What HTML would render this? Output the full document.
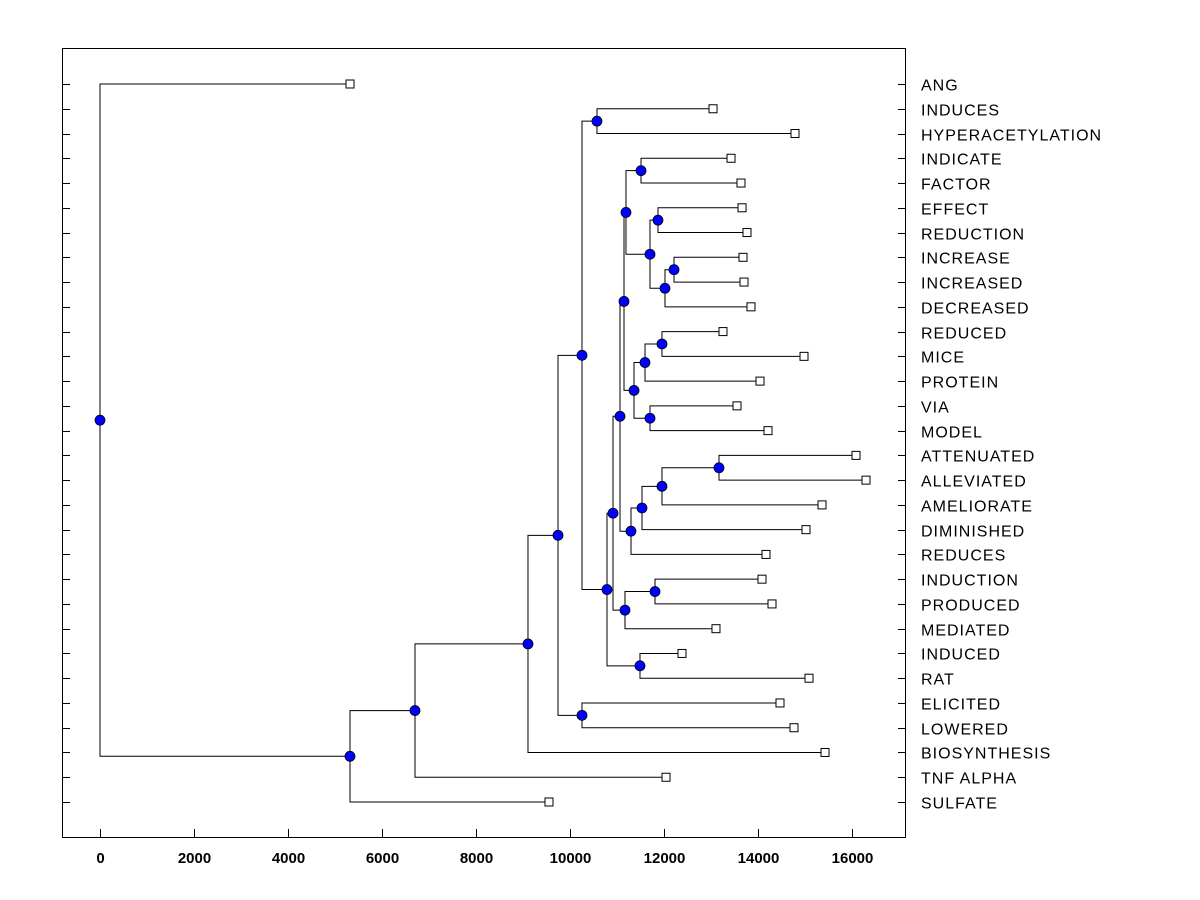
<!DOCTYPE html>
<html><head><meta charset="utf-8"><style>
html,body{margin:0;padding:0;background:#fff;}
svg{display:block;}
text{font-family:"Liberation Sans",Arial,sans-serif;}
</style></head><body>
<svg id="chart" width="1200" height="900" viewBox="0 0 1200 900" xmlns="http://www.w3.org/2000/svg">
<rect x="0" y="0" width="1200" height="900" fill="#fff"/>
<rect x="62.5" y="48.5" width="843" height="789" fill="none" stroke="#000" stroke-width="1"/>
<g id="g"></g>
</svg>
<script>
const leafLabels = ["ANG","INDUCES","HYPERACETYLATION","INDICATE","FACTOR","EFFECT","REDUCTION","INCREASE","INCREASED","DECREASED","REDUCED","MICE","PROTEIN","VIA","MODEL","ATTENUATED","ALLEVIATED","AMELIORATE","DIMINISHED","REDUCES","INDUCTION","PRODUCED","MEDIATED","INDUCED","RAT","ELICITED","LOWERED","BIOSYNTHESIS","TNF ALPHA","SULFATE"];
const leafValues = [5319,13043,14787,13426,13638,13660,13766,13681,13702,13851,13255,14979,14043,13553,14213,16085,16298,15362,15021,14170,14085,14298,13106,12383,15085,14468,14766,15426,12043,9553];
const mergeA = ["L1","L3","L5","L7","N3","N2","N1","L10","N7","L13","N8","N6","L15","N12","N13","N14","N11","L20","N17","N16","L23","N19","N0","L25","N22","N24","N25","N26","L0"];
const mergeB = ["L2","L4","L6","L8","L9","N4","N5","L11","L12","L14","N9","N10","L16","L17","L18","L19","N15","L21","L22","N18","L24","N20","N21","L26","N23","L27","L28","L29","N27"];
const mergeH = [10574,11511,11872,12213,12021,11702,11191,11957,11596,11702,11362,11149,13170,11957,11532,11298,11064,11809,11170,10915,11489,10787,10255,10255,9745,9106,6702,5319,0];
const xTicks = [0,2000,4000,6000,8000,10000,12000,14000,16000];

const NS="http://www.w3.org/2000/svg";
const g=document.getElementById('g');
const X=v=>100+v*0.047;
const Y=i=>84+i*(802-84)/29;
function mk(tag,attrs,parent){const e=document.createElementNS(NS,tag);for(const k in attrs)e.setAttribute(k,attrs[k]);(parent||g).appendChild(e);return e;}

leafLabels.forEach((lab,i)=>{
  const y=Math.round(Y(i))+0.5;
  const t1=mk('line',{x1:62,x2:70,y1:y,y2:y,stroke:'#000'});
  
  
  const t2=mk('line',{x1:898,x2:906,y1:y,y2:y,stroke:'#000'});
  
  
  const tx=mk('text',{x:921,y:y+6,'font-size':16,'letter-spacing':1});
  tx.textContent=lab;
  
  
});
xTicks.forEach(v=>{
  const x=Math.round(X(v))+0.5;
  const t=mk('line',{x1:x,x2:x,y1:829,y2:838,stroke:'#000'});
  
  
  const tx=mk('text',{x:x,y:863,'font-size':15,'font-weight':'bold','text-anchor':'middle'});
  tx.textContent=v;
  
  
});

const pos={};
leafValues.forEach((v,i)=>{pos['L'+i]={x:X(v),y:Y(i)};});
const linkG=mk('g',{});


const nodeG=mk('g',{});


const circles=[];
for(let k=0;k<mergeA.length;k++){
  const pa=pos[mergeA[k]],pb=pos[mergeB[k]];
  if(!pa||!pb) continue;
  const x=X(mergeH[k]),y=(pa.y+pb.y)/2;
  pos['N'+k]={x,y};
  const p=mk('path',{d:`M${pa.x} ${pa.y}H${x}V${pb.y}H${pb.x}`,fill:'none',stroke:'#000','stroke-width':1},linkG);
  
  
  circles.push([x,y]);
}
leafValues.forEach((v,i)=>{
  const r=mk('rect',{x:X(v)-4,y:Y(i)-4,width:8,height:8,fill:'#fff',stroke:'#000'},nodeG);
  
  
});
circles.forEach(([x,y])=>{
  const c=mk('circle',{cx:x,cy:y,r:5,fill:'#0000ff',stroke:'#000','stroke-width':0.8},nodeG);
  
  
});
</script>
</body></html>
